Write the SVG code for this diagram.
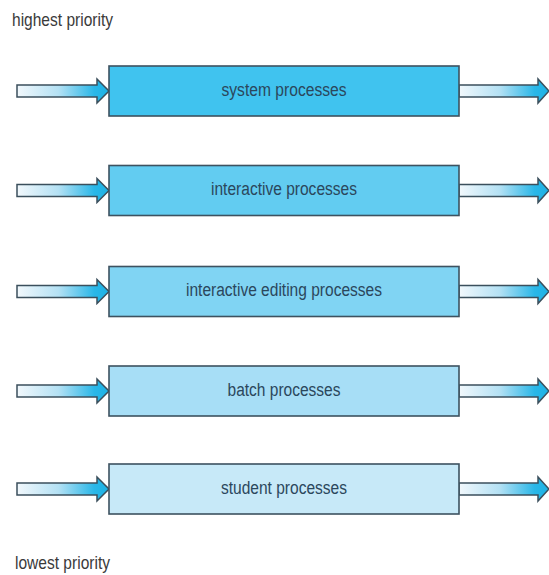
<svg xmlns="http://www.w3.org/2000/svg" xmlns:xlink="http://www.w3.org/1999/xlink" width="549" height="575" viewBox="0 0 549 575">
  <style>
    .box { stroke: #3d5260; stroke-width: 1.6; }
    .label { font-family: "Liberation Sans", Arial, sans-serif; font-size: 18px; fill: #2b475c; text-anchor: middle; }
    .prio { font-family: "Liberation Sans", Arial, sans-serif; font-size: 19px; fill: #3a3a3a; }
    .arrow { fill: url(#shaft); stroke: #3b4f5c; stroke-width: 1.5; stroke-linejoin: miter; }
  </style>
  <defs>
    <linearGradient id="shaft" x1="0" y1="0" x2="1" y2="0">
      <stop offset="0" stop-color="#f2f8fc"/>
      <stop offset="0.45" stop-color="#b4e1f4"/>
      <stop offset="0.84" stop-color="#2ab7e8"/>
      <stop offset="1" stop-color="#1cb2e5"/>
    </linearGradient>
    <!-- incoming arrow: shaft 80 long, head 12 long -->
    <path id="arrowIn" class="arrow" d="M0,-6 H80 V-12 L92,0 L80,12 V6 H0 Z"/>
    <!-- outgoing arrow: shaft 79 long, head 11 long -->
    <path id="arrowOut" class="arrow" d="M0,-6 H79 V-12 L90,0 L79,12 V6 H0 Z"/>
  </defs>

  <rect width="549" height="575" fill="#ffffff"/>

  <text class="prio" x="12" y="26" textLength="101" lengthAdjust="spacingAndGlyphs">highest priority</text>
  <text class="prio" x="15" y="569" textLength="95" lengthAdjust="spacingAndGlyphs">lowest priority</text>

  <g id="connectors">
    <use xlink:href="#arrowIn" x="17" y="91"/>
    <use xlink:href="#arrowOut" x="459" y="91"/>
    <use xlink:href="#arrowIn" x="17" y="190.5"/>
    <use xlink:href="#arrowOut" x="459" y="190.5"/>
    <use xlink:href="#arrowIn" x="17" y="291.5"/>
    <use xlink:href="#arrowOut" x="459" y="291.5"/>
    <use xlink:href="#arrowIn" x="17" y="391"/>
    <use xlink:href="#arrowOut" x="459" y="391"/>
    <use xlink:href="#arrowIn" x="17" y="489"/>
    <use xlink:href="#arrowOut" x="459" y="489"/>
  </g>

  <g id="system">
    <rect class="box" x="109" y="66" width="350" height="50" fill="#40c3ef"/>
    <text class="label" x="284" y="95.5" textLength="125" lengthAdjust="spacingAndGlyphs">system processes</text>
  </g>
  <g id="interactive">
    <rect class="box" x="109" y="165.5" width="350" height="50" fill="#62ccf1"/>
    <text class="label" x="284" y="195" textLength="146" lengthAdjust="spacingAndGlyphs">interactive processes</text>
  </g>
  <g id="editing">
    <rect class="box" x="109" y="266.5" width="350" height="50" fill="#80d4f3"/>
    <text class="label" x="284" y="296" textLength="196" lengthAdjust="spacingAndGlyphs">interactive editing processes</text>
  </g>
  <g id="batch">
    <rect class="box" x="109" y="366" width="350" height="50" fill="#a7def6"/>
    <text class="label" x="284" y="395.5" textLength="113" lengthAdjust="spacingAndGlyphs">batch processes</text>
  </g>
  <g id="student">
    <rect class="box" x="109" y="464" width="350" height="50" fill="#c7e9f8"/>
    <text class="label" x="284" y="493.5" textLength="126" lengthAdjust="spacingAndGlyphs">student processes</text>
  </g>
</svg>
